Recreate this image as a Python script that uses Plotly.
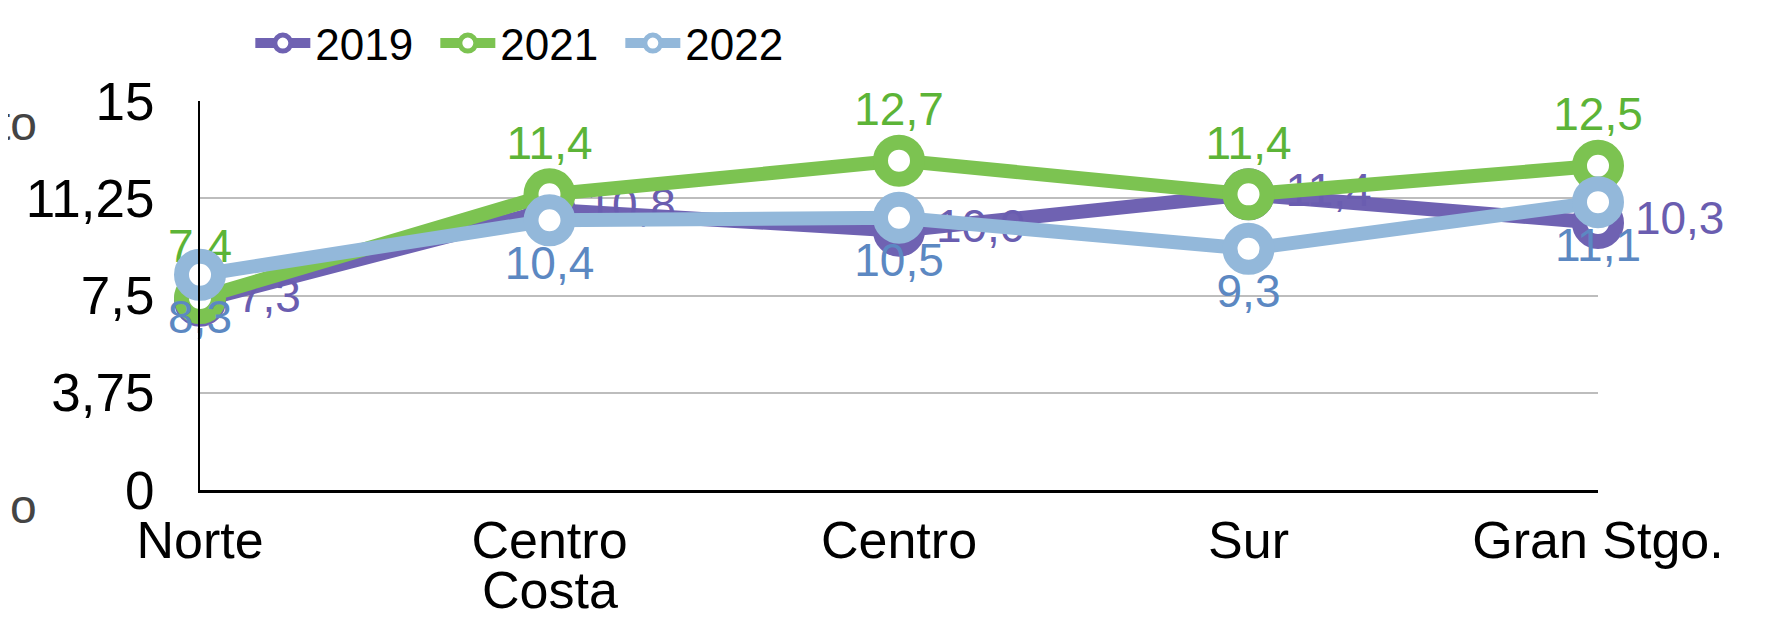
import plotly.graph_objects as go

# data
zonas = ["Norte", "Centro Costa", "Centro", "Sur", "Gran Stgo."]
tick_l1 = ["Norte", "Centro", "Centro", "Sur", "Gran Stgo."]
tick_l2 = ["", "Costa", "", "", ""]
v2019 = [7.3, 10.8, 10.0, 11.4, 10.3]
v2021 = [7.4, 11.4, 12.7, 11.4, 12.5]
v2022 = [8.3, 10.4, 10.5, 9.3, 11.1]

FONT = "Liberation Sans, Arial, sans-serif"

series = [
    ("2019", v2019, "#6f62b2", "#6a5db0", "middle right"),
    ("2021", v2021, "#7cc351", "#5cb437", "top center"),
    ("2022", v2022, "#93b8da", "#5c88c2", "bottom center"),
]

fig = go.Figure()
for name, vals, col, tcol, pos in series:
    # right side labels get a bit of extra room
    tmpl = "\u00a0%{y:.1f}" if pos == "middle right" else "%{y:.1f}"
    fig.add_trace(go.Scatter(
        x=zonas, y=vals, name=name, mode="lines+markers+text",
        line=dict(color=col, width=14),
        marker=dict(size=37, color="white", line=dict(color=col, width=15)),
        texttemplate=tmpl, textposition=pos,
        textfont=dict(color=tcol, size=46, family=FONT),
        cliponaxis=False,
    ))

# page body has an 8px margin, so offsets are compensated here
fig.update_layout(
    width=1783, height=618,
    margin=dict(l=192, r=193, t=93, b=136, autoexpand=False),
    paper_bgcolor="white", plot_bgcolor="white",
    separators=",.",
    font=dict(family=FONT, color="black"),
    showlegend=True,
    legend=dict(orientation="h", x=0.036, xref="paper", y=1.0, yanchor="top",
                yref="container", font=dict(size=44, color="black"),
                itemwidth=55, tracegroupgap=0,
                entrywidth=115, entrywidthmode="pixels"),
)

fig.update_xaxes(
    range=[0, 4], showgrid=False, showline=True, linecolor="black", linewidth=3,
    ticks="", tickfont=dict(size=52, family=FONT), ticklabelstandoff=3,
    tickmode="array", tickvals=zonas, ticktext=tick_l1,
    automargin=False,
)
fig.update_yaxes(
    range=[0, 15], dtick=3.75, tick0=0, showgrid=True, gridcolor="#bdbdbd", gridwidth=2,
    showline=True, linecolor="black", linewidth=2, zeroline=False,
    ticks="", tickfont=dict(size=53, family=FONT), ticklabelstandoff=33,
    automargin=False,
)

# second line of the category labels (tighter than plotly's <br> spacing)
for z, t in zip(zonas, tick_l2):
    if t:
        fig.add_annotation(text=t, x=z, xref="x", yref="paper", y=(490 - 590) / 389,
                           yanchor="middle", showarrow=False,
                           font=dict(size=52, color="black", family=FONT))

# cropped text fragments on the left edge
for txt, yy in [("to", 123), ("o", 506)]:
    fig.add_annotation(text=txt, xref="paper", yref="paper",
                       x=(39 - 200) / 1398, xanchor="right",
                       y=(490 - yy) / 389, yanchor="middle",
                       showarrow=False, font=dict(size=48, color="#444444", family=FONT))

fig.write_html("out.html")
